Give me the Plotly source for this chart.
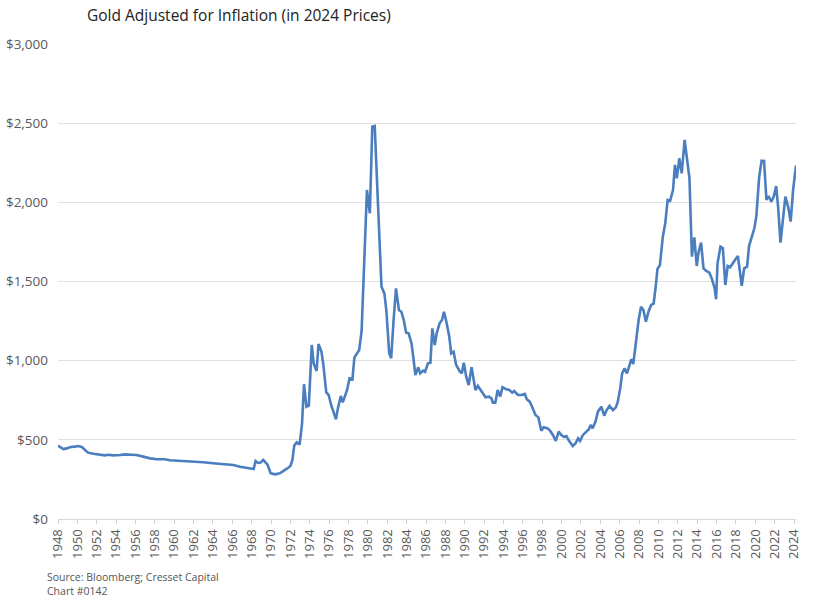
import plotly.graph_objects as go

# Decimal-year positions and inflation-adjusted gold prices (2024 $)
years = [
    1948.0, 1948.25, 1948.55, 1948.9, 1949.3, 1949.75, 1950.1, 1950.45, 1950.8, 1951.1,
    1951.65, 1952.15, 1952.85, 1953.2, 1953.7, 1954.4, 1954.9, 1955.6, 1956.1, 1956.8,
    1957.5, 1958.2, 1959.0, 1959.55, 1960.6, 1962.0, 1963.0, 1964.0, 1965.05, 1966.1,
    1966.8, 1967.5, 1968.05, 1968.2, 1968.4, 1968.65, 1968.9, 1969.2, 1969.65, 1969.95,
    1970.4, 1970.9, 1971.6, 1972.0, 1972.2, 1972.4, 1972.65, 1972.95, 1973.2, 1973.4,
    1973.65, 1973.9, 1974.2, 1974.4, 1974.7, 1974.9, 1975.2, 1975.4, 1975.7, 1975.95,
    1976.2, 1976.7, 1976.9, 1977.2, 1977.4, 1977.85, 1978.1, 1978.4, 1978.6, 1979.1,
    1979.35, 1979.6, 1979.9, 1980.2, 1980.45, 1980.7, 1981.05, 1981.4, 1981.7, 1981.9,
    1982.2, 1982.4, 1982.65, 1982.9, 1983.2, 1983.45, 1983.7, 1983.95, 1984.2, 1984.5,
    1984.7, 1984.9, 1985.2, 1985.4, 1985.7, 1985.9, 1986.2, 1986.45, 1986.65, 1986.9,
    1987.1, 1987.4, 1987.65, 1987.85, 1988.1, 1988.4, 1988.6, 1988.85, 1989.1, 1989.45,
    1989.7, 1989.9, 1990.15, 1990.4, 1990.7, 1990.9, 1991.1, 1991.35, 1991.6, 1991.9,
    1992.15, 1992.5, 1992.75, 1992.9, 1993.15, 1993.4, 1993.65, 1993.9, 1994.3, 1994.6,
    1994.9, 1995.1, 1995.5, 1995.85, 1996.2, 1996.4, 1996.7, 1996.95, 1997.3, 1997.6,
    1997.9, 1998.15, 1998.5, 1998.75, 1999.1, 1999.4, 1999.7, 1999.95, 2000.25, 2000.5,
    2000.75, 2001.15, 2001.45, 2001.7, 2001.9, 2002.2, 2002.5, 2002.8, 2003.0, 2003.2,
    2003.5, 2003.75, 2004.1, 2004.4, 2004.65, 2004.95, 2005.3, 2005.6, 2005.8, 2006.05,
    2006.25, 2006.5, 2006.75, 2007.0, 2007.2, 2007.4, 2007.7, 2007.95, 2008.2, 2008.45,
    2008.7, 2009.0, 2009.25, 2009.5, 2009.7, 2009.9, 2010.15, 2010.45, 2010.7, 2010.95,
    2011.2, 2011.5, 2011.7, 2011.9, 2012.15, 2012.4, 2012.7, 2012.9, 2013.2, 2013.45,
    2013.7, 2013.95, 2014.15, 2014.4, 2014.65, 2014.9, 2015.25, 2015.5, 2015.8, 2015.95,
    2016.1, 2016.4, 2016.65, 2016.9, 2017.15, 2017.4, 2017.65, 2017.95, 2018.2, 2018.4,
    2018.6, 2018.85, 2019.15, 2019.35, 2019.65, 2019.9, 2020.1, 2020.4, 2020.65, 2020.9,
    2021.15, 2021.35, 2021.65, 2021.9, 2022.15, 2022.35, 2022.6, 2022.85, 2023.1, 2023.4,
    2023.65, 2023.9, 2024.2,
]
prices = [
    463, 455, 442, 446, 455, 457, 461, 455, 436, 419,
    412, 406, 402, 406, 402, 404, 408, 406, 404, 394,
    383, 377, 377, 371, 368, 364, 358, 352, 347, 341,
    330, 324, 318, 316, 366, 354, 356, 373, 341, 289,
    282, 289, 316, 335, 373, 465, 484, 470, 604, 851,
    709, 716, 1099, 983, 935, 1105, 1057, 973, 800, 783,
    720, 630, 699, 777, 737, 815, 889, 882, 1019, 1067,
    1190, 1636, 2078, 1931, 2478, 2482, 1952, 1467, 1425, 1320,
    1046, 1015, 1257, 1457, 1320, 1309, 1257, 1177, 1173, 1110,
    1015, 909, 958, 920, 937, 930, 983, 987, 1204, 1099,
    1173, 1236, 1257, 1309, 1246, 1151, 1046, 1057, 975, 935,
    920, 987, 899, 846, 958, 878, 815, 840, 815, 794,
    769, 773, 762, 735, 735, 815, 773, 832, 819, 815,
    798, 808, 783, 783, 790, 756, 741, 709, 657, 642,
    558, 579, 573, 562, 531, 493, 552, 531, 518, 524,
    495, 461, 478, 510, 493, 531, 552, 566, 594, 573,
    615, 678, 709, 653, 688, 714, 688, 705, 741, 825,
    920, 952, 920, 973, 1009, 979, 1151, 1257, 1341, 1320,
    1246, 1316, 1352, 1360, 1460, 1580, 1604, 1783, 1868, 2015,
    2010, 2078, 2236, 2152, 2278, 2183, 2394, 2288, 2152, 1657,
    1779, 1598, 1688, 1745, 1583, 1568, 1556, 1520, 1457, 1388,
    1615, 1720, 1710, 1478, 1598, 1590, 1615, 1640, 1661, 1562,
    1473, 1583, 1594, 1724, 1794, 1836, 1909, 2162, 2263, 2261,
    2015, 2040, 2004, 2036, 2103, 1973, 1745, 1909, 2036, 1968,
    1878, 2078, 2232,
]

tick_years = list(range(1948, 2025, 2))
tick_labels = [str(y) for y in tick_years]

title_text = "Gold Adjusted for Inflation (in 2024 Prices)"
source_text = "Source: Bloomberg; Cresset Capital<br>Chart #0142"

FONT = "Open Sans"
GREY = "#595959"

fig = go.Figure()
fig.add_trace(go.Scatter(
    x=years, y=prices, mode="lines",
    line=dict(color="#4a7ebf", width=2.6),
    hoverinfo="x+y", showlegend=False,
))

fig.update_layout(
    width=836, height=606,
    margin=dict(l=58, r=40, t=44, b=87),
    paper_bgcolor="white", plot_bgcolor="white",
    font=dict(family=FONT, color=GREY),
    title=dict(text=title_text, x=87 / 836, xanchor="left", xref="container",
               y=1 - 16 / 606, yanchor="middle", yref="container",
               font=dict(family=FONT, size=15.5, color="#222222")),
    xaxis=dict(
        range=[1948, 2024.2], tickmode="array", tickvals=tick_years, ticktext=tick_labels,
        tickangle=-90, ticks="outside", ticklen=4, tickcolor="#d0d0d0",
        showline=True, linecolor="#d9d9d9", linewidth=1, showgrid=False, zeroline=False,
        tickfont=dict(family=FONT, size=13, color=GREY), automargin=False,
    ),
    yaxis=dict(
        range=[0, 3000], dtick=500, tickprefix="$", tickformat=",",
        showgrid=True, gridcolor="#e0e0e0", gridwidth=1, zeroline=False,
        ticks="", ticklabelstandoff=9, automargin=False,
        tickfont=dict(family=FONT, size=13.5, color=GREY),
    ),
    annotations=[dict(
        text=source_text, xref="paper", yref="paper", x=-13 / 738, y=-(568 - 519) / 475,
        xanchor="left", yanchor="top", align="left", showarrow=False,
        font=dict(family=FONT, size=10.5, color="#555555"),
    )],
)

fig.write_html("out.html")
